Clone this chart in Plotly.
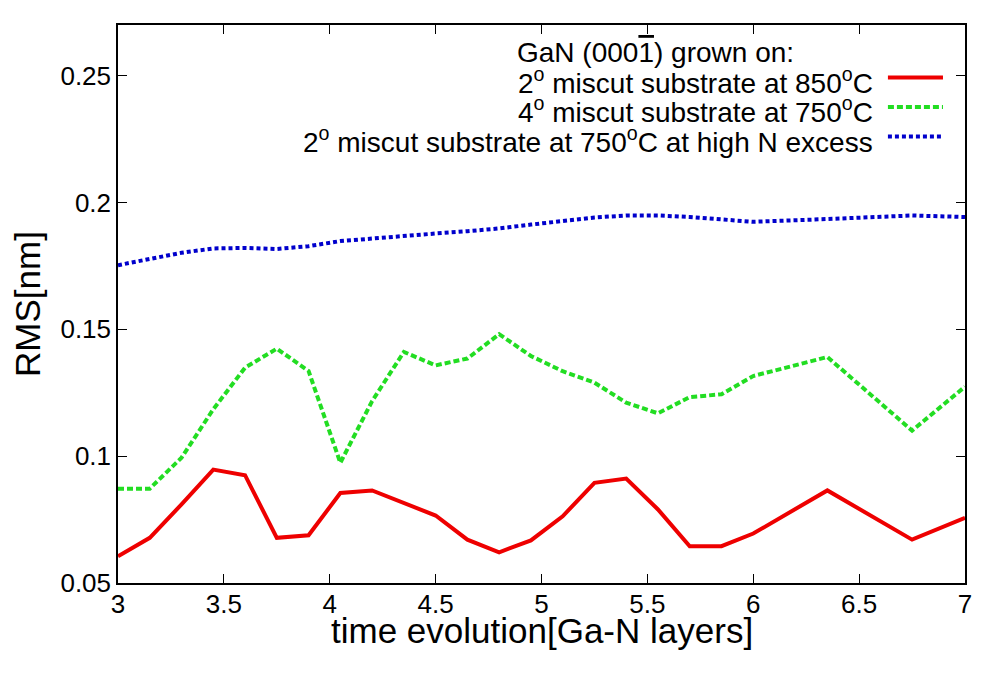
import plotly.graph_objects as go

# time evolution in Ga-N layers
layers = [3.0, 3.15, 3.3, 3.45, 3.6, 3.75, 3.9, 4.05, 4.2, 4.35, 4.5, 4.65,
          4.8, 4.95, 5.1, 5.25, 5.4, 5.55, 5.7, 5.85, 6.0, 6.35, 6.75, 7.0]

rms_2deg_850 = [0.0605, 0.0678, 0.0810, 0.0947, 0.0925, 0.0678, 0.0688, 0.0855,
                0.0865, 0.0816, 0.0766, 0.0671, 0.0621, 0.0668, 0.0763, 0.0895,
                0.0912, 0.0790, 0.0645, 0.0645, 0.0695, 0.0865, 0.0671, 0.0757]

rms_4deg_750 = [0.0872, 0.0872, 0.0994, 0.1185, 0.1349, 0.1424, 0.1336, 0.0974,
                0.1217, 0.1411, 0.1358, 0.1385, 0.1481, 0.1395, 0.1335, 0.1290,
                0.1211, 0.1169, 0.1233, 0.1244, 0.1316, 0.1391, 0.1101, 0.1274]

rms_2deg_750_n = [0.1753, 0.1777, 0.1802, 0.1819, 0.1821, 0.1817, 0.1828, 0.1848,
                  0.1858, 0.1871, 0.1878, 0.1887, 0.1898, 0.1913, 0.1928, 0.1941,
                  0.1949, 0.1949, 0.1943, 0.1933, 0.1924, 0.1935, 0.1949, 0.1943]

legend_title = 'GaN (000<span style="text-decoration:overline">1</span>) grown on:'
names = ["2<sup>o</sup> miscut substrate at 850<sup>o</sup>C",
         "4<sup>o</sup> miscut substrate at 750<sup>o</sup>C",
         "2<sup>o</sup> miscut substrate at 750<sup>o</sup>C at high N excess"]
colors = ["#ee0000", "#22dd22", "#0000cc"]
dashes = ["solid", "6px,3px", "4px,3px"]

FONT = "Liberation Sans, Arial, sans-serif"

fig = go.Figure()
for ys, name, c, d in zip([rms_2deg_850, rms_4deg_750, rms_2deg_750_n], names, colors, dashes):
    fig.add_trace(go.Scatter(x=layers, y=ys, mode="lines", name=name,
                             line=dict(color=c, width=4, dash=d), showlegend=False))

# gnuplot style key in the top right: text right-aligned, sample line after it
fig.add_annotation(xref="paper", yref="paper", x=0.800, y=0.950, text=legend_title,
                   showarrow=False, xanchor="right", yanchor="middle",
                   font=dict(size=28, color="black", family=FONT))
key_y = [0.900, 0.847, 0.794]
for ky, name, c, d in zip(key_y, names, colors, dashes):
    fig.add_annotation(xref="paper", yref="paper", x=0.894, y=ky, text=name,
                       showarrow=False, xanchor="right", yanchor="middle",
                       font=dict(size=28, color="black", family=FONT))
    fig.add_shape(type="line", xref="paper", yref="paper", x0=0.909, x1=0.974,
                  y0=ky + 0.006, y1=ky + 0.006, line=dict(color=c, width=4, dash=d))

# x title as annotation so it can sit close to the tick labels
fig.add_annotation(xref="paper", yref="paper", x=0.5, y=-0.086, text="time evolution[Ga-N layers]",
                   showarrow=False, xanchor="center", yanchor="middle",
                   font=dict(size=35, color="black", family=FONT))

axis_common = dict(showline=True, linecolor="black", linewidth=1.5, mirror="ticks",
                   ticks="inside", ticklen=9, tickcolor="black", showgrid=False,
                   zeroline=False, tickfont=dict(size=26, color="black", family=FONT))

fig.update_xaxes(range=[3, 7], dtick=0.5, tick0=3, ticklabelstandoff=-3, **axis_common)
fig.update_yaxes(range=[0.05, 0.27], dtick=0.05, tick0=0.05,
                 title=dict(text="RMS[nm]", standoff=12,
                            font=dict(size=35, color="black", family=FONT)),
                 **axis_common)

fig.update_layout(width=1000, height=700, paper_bgcolor="white", plot_bgcolor="white",
                  margin=dict(l=110, r=43, t=17, b=125),
                  font=dict(family=FONT, color="black"))

fig.write_html("out.html")
